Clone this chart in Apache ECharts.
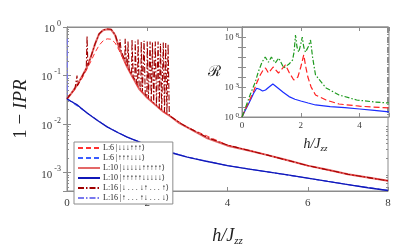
<!DOCTYPE html>
<html>
<head>
<meta charset="utf-8">
<script src="https://cdn.jsdelivr.net/npm/echarts@6/dist/echarts.min.js"></script>
<style>
  html, body { margin: 0; padding: 0; background: #fff; }
  #chart { width: 415px; height: 252px; }
</style>
</head>
<body>
<div id="chart"></div>
<script>
// main panel: 1 - IPR vs h/Jzz, pairs of [h, value]
const redL6 = [[0,0.033],[0.2,0.052],[0.4,0.095],[0.6,0.2],[0.7,0.3],[0.8,0.42],[0.9,0.52],[1.0,0.57],[1.1,0.56],[1.2,0.47],[1.3,0.33],[1.4,0.22],[1.5,0.15],[1.6,0.105],[1.8,0.053],[2.0,0.035],[2.4,0.018],[3,0.0086],[4,0.0037],[5,0.0023],[6,0.0014],[7,0.00093],[8,0.00068]];
const blueL6 = [[0,0.033],[0.5,0.017],[1,0.0088],[1.5,0.0054],[2,0.0037],[3,0.0021],[4,0.0014],[5,0.00104],[6,0.00077],[7,0.00057],[8,0.00043]];
const redL10 = [[0,0.033],[0.1,0.042],[0.2,0.055],[0.3,0.075],[0.4,0.105],[0.5,0.15],[0.6,0.25],[0.7,0.45],[0.8,0.72],[0.9,0.86],[1.0,0.9],[1.1,0.88],[1.2,0.68],[1.3,0.37],[1.4,0.23],[1.5,0.15],[1.6,0.105],[1.8,0.053],[2.0,0.035],[2.2,0.025],[2.4,0.018],[2.6,0.014],[2.8,0.0105],[3.0,0.0086],[3.5,0.0051],[4,0.0036],[4.5,0.0029],[5,0.0023],[5.5,0.0018],[6,0.0014],[6.5,0.00115],[7,0.00093],[7.5,0.0008],[8,0.00068]];
const blueL10 = [[0,0.033],[0.25,0.025],[0.5,0.017],[0.75,0.012],[1,0.0088],[1.25,0.0068],[1.5,0.0054],[2,0.0037],[2.5,0.0027],[3,0.0021],[3.5,0.0017],[4,0.0014],[4.5,0.0012],[5,0.00104],[5.5,0.0009],[6,0.00077],[6.5,0.00066],[7,0.00057],[7.5,0.00049],[8,0.00043]];
const redL16 = [[0,0.033],[0.1,0.043],[0.2,0.055],[0.24,0.06],[0.25,0.1],[0.26,0.062],[0.4,0.105],[0.48,0.14],[0.5,0.65],[0.52,0.16],[0.6,0.25],[0.7,0.45],[0.8,0.72],[0.9,0.87],[1.0,0.91],[1.1,0.9],[1.2,0.7],[1.3,0.38],
  [1.32,0.55],[1.35,0.32],[1.44,0.21],[1.45,0.57],[1.48,0.18],[1.51,0.155],[1.52,0.5],[1.55,0.135],
  [1.61,0.105],[1.62,0.55],[1.65,0.095],[1.69,0.083],[1.7,0.5],[1.73,0.074],[1.76,0.065],[1.77,0.55],[1.8,0.058],
  [1.84,0.052],[1.85,0.5],[1.88,0.047],[1.91,0.044],[1.92,0.52],[1.95,0.041],[1.99,0.037],[2.0,0.5],[2.03,0.034],
  [2.06,0.032],[2.07,0.5],[2.1,0.03],[2.12,0.029],[2.13,0.48],[2.16,0.027],[2.19,0.026],[2.2,0.5],[2.23,0.024],
  [2.26,0.023],[2.27,0.5],[2.3,0.021],[2.32,0.02],[2.33,0.45],[2.36,0.0195],[2.39,0.0185],[2.4,0.48],[2.43,0.0178],
  [2.45,0.017],[2.46,0.47],[2.49,0.0165],[2.51,0.016],[2.52,0.45],[2.55,0.015],
  [2.8,0.0108],[3,0.0086],[3.5,0.0053],[4,0.0037],[5,0.0023],[6,0.0014],[7,0.00093],[8,0.00068]];
const blueL16 = [[0.01,0.57],[0.01,0.033],[0.25,0.025],[0.5,0.017],[1,0.0088],[1.5,0.0054],[2,0.0037],[3,0.0021],[4,0.0014],[5,0.00104],[6,0.00077],[7,0.00057],[8,0.00043]];

// inset: R vs h/Jzz
const insetBlue = [[0,1],[0.1,4],[0.2,15],[0.3,60],[0.4,250],[0.5,750],[0.6,600],[0.7,400],[0.8,500],[0.9,900],[1.05,2000],[1.2,900],[1.4,300],[1.6,110],[1.8,60],[2.0,40],[2.25,25],[2.5,16],[3,11],[3.5,8.5],[4,6.3],[4.5,4.5],[5,3.2]];
const insetRed = [[0,1],[0.1,5],[0.2,20],[0.3,90],[0.4,400],[0.45,1000],[0.5,2500],[0.62,1.6e4],[0.72,5e4],[0.8,8e4],[0.9,2.5e4],[1.06,1e5],[1.24,2.5e4],[1.48,1.6e5],[1.6,3e4],[1.76,5e3],[1.9,1e4],[2.0,1e5],[2.1,1.6e6],[2.17,1e5],[2.24,1e4],[2.35,1000],[2.5,160],[2.86,50],[3.3,20],[4,12],[4.45,10],[5,8]];
const insetGreen = [[0,1],[0.1,6],[0.2,40],[0.3,250],[0.45,3000],[0.55,3e4],[0.68,3e5],[0.79,1e6],[0.9,3e5],[1.0,1e6],[1.13,2.5e5],[1.25,8e5],[1.42,8e4],[1.6,2e5],[1.72,5e5],[1.77,3e6],[1.82,1.6e8],[1.87,1e7],[1.93,3e6],[2.0,2e7],[2.05,1e8],[2.1,1e7],[2.16,3e6],[2.25,1e7],[2.33,5e7],[2.4,1e6],[2.5,1.6e4],[2.86,800],[3.3,160],[3.9,50],[4.5,32],[5,25]];

const legendNames = ['L:6 |↓↓↓↑↑↑⟩', 'L:6 |↑↑↑↓↓↓⟩', 'L:10 |↓↓↓↓↓↑↑↑↑↑⟩', 'L:10 |↑↑↑↑↑↓↓↓↓↓⟩', 'L:16 |↓ . . . ↓↑ . . . ↑⟩', 'L:16 |↑ . . . ↑↓ . . . ↓⟩'];
const insetLabelValues = [1, 1e3, 1e8];

document.addEventListener('DOMContentLoaded', () => {
    const chart = echarts.init(document.getElementById('chart'));
    const serif = 'Liberation Serif, DejaVu Serif, serif';
    const frame = '#8c8c8c';
    const insetRect = { left: 242, right: 26, top: 27, bottom: 135 };

    function minorValues(lo, hi) {
        const vals = [];
        for (let k = lo; k <= hi; k++) {
            for (let m = 2; m <= 9; m++) vals.push(m * Math.pow(10, k));
        }
        return vals;
    }

    function powLabel(v) {
        const e = Math.round(Math.log10(v));
        if (Math.abs(Math.log10(v) - e) > 1e-6) return '';
        return '{b|10}{s|' + e + '}';
    }

    const tickText = { color: '#3a3a3a', fontFamily: serif };

    function xAxisDef(grid, pos, min, max, showLabel, fontSize, z) {
        return {
            type: 'value', gridIndex: grid, position: pos, min: min, max: max, interval: 2, z: z,
            axisLine: { show: true, lineStyle: { color: frame, width: 1 } },
            axisTick: { show: true, inside: true, length: 4, lineStyle: { color: frame } },
            axisLabel: { show: showLabel, fontSize: fontSize, margin: grid === 0 ? 7 : 4, ...tickText,
                showMinLabel: true,
                formatter: v => (v % 2 === 0 ? String(v) : '') },
            splitLine: { show: false }
        };
    }

    function yAxisDef(grid, pos, min, max, z, opts) {
        return Object.assign({
            type: 'log', logBase: 10, gridIndex: grid, position: pos, min: min, max: max, z: z,
            axisLine: { show: true, lineStyle: { color: frame, width: 1 } },
            axisTick: { show: true, inside: true, length: 4, lineStyle: { color: frame } },
            axisLabel: { show: false },
            splitLine: { show: false }
        }, opts);
    }

    function minorAxis(grid, pos, min, max, lo, hi, z) {
        return yAxisDef(grid, pos, min, max, z, {
            axisLine: { show: false },
            axisTick: { show: true, inside: true, length: 2, lineStyle: { color: frame }, customValues: minorValues(lo, hi) }
        });
    }

    const mainLabel = {
        show: true, margin: 6, showMinLabel: true, showMaxLabel: true,
        formatter: v => powLabel(v),
        rich: {
            b: { fontSize: 11, lineHeight: 15, verticalAlign: 'bottom', ...tickText },
            s: { fontSize: 8, verticalAlign: 'top', padding: [0, 0, 0, 2], ...tickText }
        }
    };
    // only three labelled decades in the inset, given as explicit label values
    const insetLabel = {
        show: true, margin: 3,
        customValues: insetLabelValues,
        formatter: v => powLabel(v),
        rich: {
            b: { fontSize: 9, lineHeight: 11, verticalAlign: 'bottom', ...tickText },
            s: { fontSize: 7, verticalAlign: 'top', padding: [0, 0, 0, 2], ...tickText }
        }
    };

    const mainX = xAxisDef(0, 'bottom', 0, 8, true, 11, 1);
    mainX.name = '{i|h/J}{s|zz}';
    mainX.nameLocation = 'middle';
    mainX.nameGap = 36;
    mainX.nameTextStyle = { rich: {
        i: { fontSize: 18, fontStyle: 'italic', fontFamily: serif, color: '#222', lineHeight: 20, verticalAlign: 'top' },
        s: { fontSize: 11, fontStyle: 'italic', fontFamily: serif, color: '#222', verticalAlign: 'bottom' }
    } };

    const insetX = xAxisDef(1, 'bottom', 0, 5, true, 9, 11);
    insetX.name = '{i|h/J}{s|zz}';
    insetX.nameLocation = 'middle';
    insetX.nameGap = 20;
    insetX.nameTextStyle = { rich: {
        i: { fontSize: 14, fontStyle: 'italic', fontFamily: serif, color: '#222', lineHeight: 16, verticalAlign: 'top' },
        s: { fontSize: 9, fontStyle: 'italic', fontFamily: serif, color: '#222', verticalAlign: 'bottom' }
    } };

    const mainY = yAxisDef(0, 'left', 4.2e-4, 1, 1, {
        axisLabel: mainLabel,
        name: '{a|1 − }{b|IPR}',
        nameLocation: 'middle',
        nameRotate: 90,
        nameGap: 35,
        nameTextStyle: { rich: {
            a: { fontSize: 19, fontFamily: serif, color: '#222' },
            b: { fontSize: 19, fontFamily: serif, fontStyle: 'italic', color: '#222' }
        } }
    });
    const insetY = yAxisDef(1, 'left', 1, 1e9, 11, {
        name: 'ℛ',
        nameLocation: 'middle',
        nameRotate: 0,
        nameGap: 21,
        nameTextStyle: { fontSize: 15, fontFamily: 'DejaVu Serif, serif', color: '#222' }
    });
    // inset tick labels on a twin grid with the same rect
    const insetYLabels = yAxisDef(2, 'left', 1, 1e9, 11, {
        axisLine: { show: false },
        axisTick: { show: false },
        axisLabel: insetLabel
    });

    const line = (name, data, color, width, type, xi, yi, z) => ({
        name: name, type: 'line', data: data, xAxisIndex: xi, yAxisIndex: yi, z: z,
        showSymbol: false, symbol: 'none', animation: false, silent: true,
        lineStyle: { color: color, width: width, type: type },
        itemStyle: { color: color }
    });

    const option = {
        animation: false,
        grid: [
            { left: 67, right: 27, top: 27, bottom: 44, show: true, borderColor: frame, borderWidth: 1, backgroundColor: 'transparent', z: 0 },
            { ...insetRect, show: true, borderColor: frame, borderWidth: 1, backgroundColor: '#fff', z: 10 },
            { ...insetRect, show: false }
        ],
        legend: {
            data: legendNames,
            orient: 'vertical',
            left: 74, top: 142,
            itemWidth: 22, itemHeight: 8, itemGap: 2,
            padding: [2, 4, 2, 3],
            backgroundColor: '#fff',
            borderColor: frame, borderWidth: 1,
            selectedMode: false,
            z: 20,
            itemStyle: { color: 'transparent', borderWidth: 0, opacity: 0 },
            textStyle: { fontSize: 8, fontFamily: serif, color: '#222', padding: [0, 0, 0, -2] }
        },
        xAxis: [
            mainX,
            xAxisDef(0, 'top', 0, 8, false, 11, 1),
            insetX,
            xAxisDef(1, 'top', 0, 5, false, 9, 11),
            { type: 'value', gridIndex: 2, min: 0, max: 5, show: false }
        ],
        yAxis: [
            mainY,
            yAxisDef(0, 'right', 4.2e-4, 1, 1, {}),
            minorAxis(0, 'left', 4.2e-4, 1, -4, -1, 1),
            minorAxis(0, 'right', 4.2e-4, 1, -4, -1, 1),
            insetY,
            yAxisDef(1, 'right', 1, 1e9, 11, {}),
            minorAxis(1, 'right', 1, 1e9, 0, 8, 11),
            insetYLabels
        ],
        series: [
            line(legendNames[0], redL6, '#ff3030', 1, [5, 3], 0, 0, 2),
            line(legendNames[1], blueL6, '#3a5cff', 1, [5, 3], 0, 0, 2),
            line(legendNames[5], blueL16, '#7878ee', 1.1, [6, 2, 1.5, 2], 0, 0, 3),
            line(legendNames[2], redL10, 'rgba(215,40,40,0.7)', 2, 'solid', 0, 0, 3),
            line(legendNames[4], redL16, '#a00000', 1.1, [6, 2, 1.5, 2], 0, 0, 4),
            line(legendNames[3], blueL10, '#1018b8', 1.3, 'solid', 0, 0, 4),
            line('inset-blue', insetBlue, '#1a2cff', 1.2, 'solid', 2, 4, 12),
            line('inset-red', insetRed, '#ff2020', 1.2, [6, 3], 2, 4, 12),
            line('inset-green', insetGreen, '#1e9a1e', 1.2, [5, 2, 1.5, 2], 2, 4, 12)
        ]
    };
    chart.setOption(option);
});
</script>
</body>
</html>
